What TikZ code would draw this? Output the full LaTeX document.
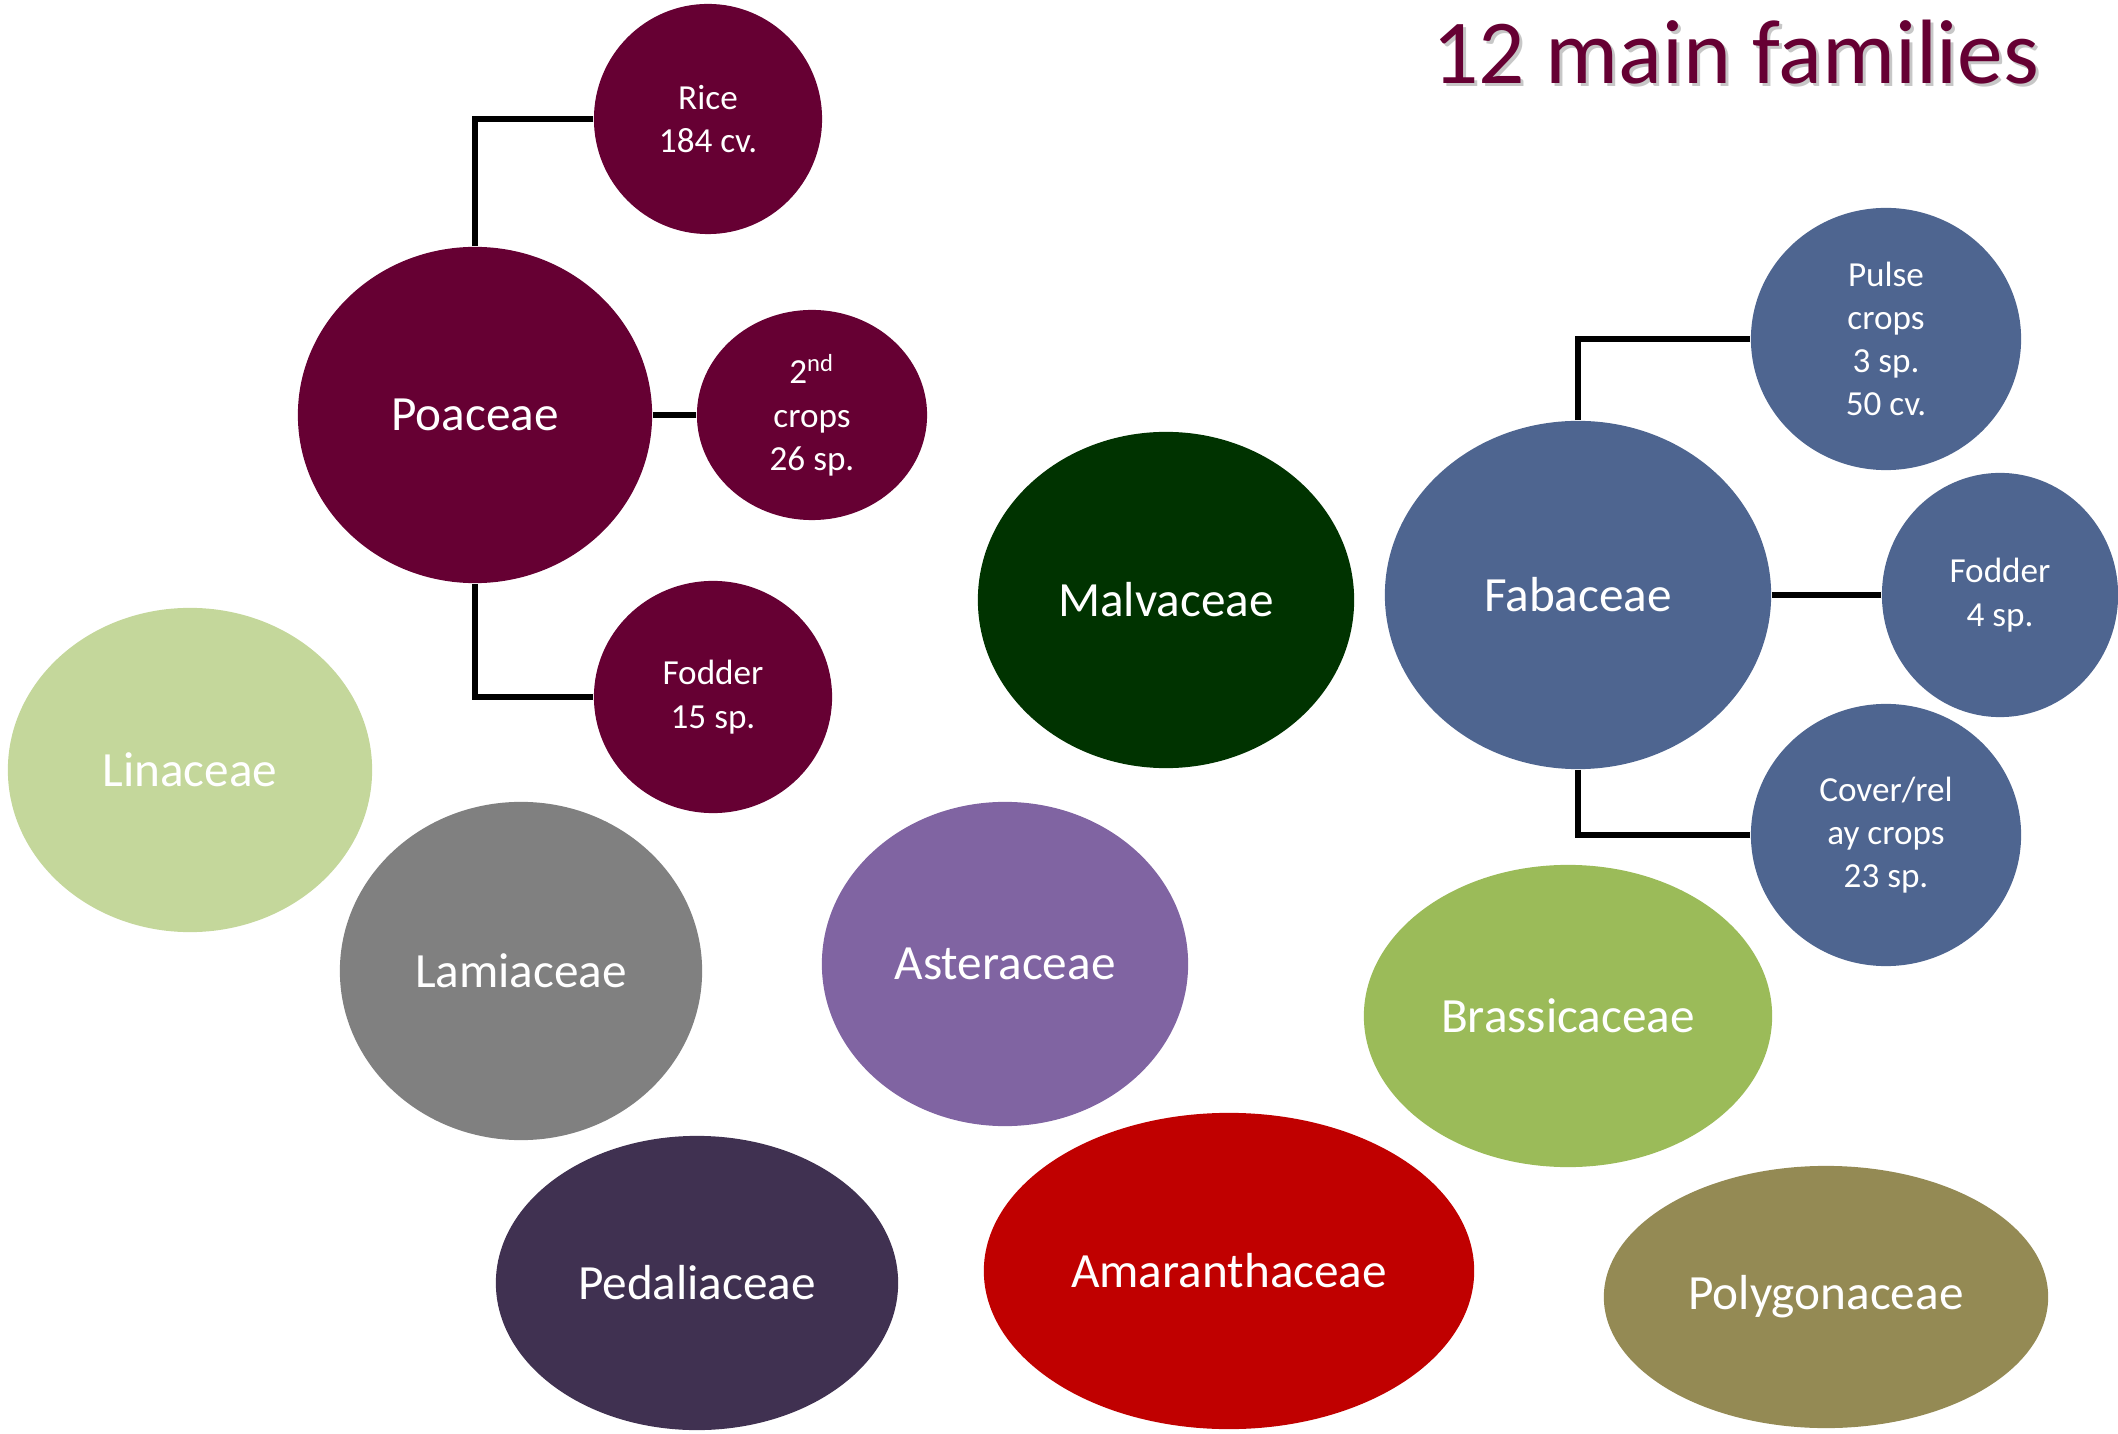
\documentclass[tikz,border=0pt]{standalone}
\usepackage{fontspec}
\setmainfont{Carlito}
\usepackage{tikz}
\usetikzlibrary{shapes.geometric, positioning}

\definecolor{poacol}{HTML}{660033}
\definecolor{fabcol}{HTML}{4E6590}
\definecolor{malcol}{HTML}{003300}
\definecolor{lincol}{HTML}{C4D79B}
\definecolor{lamcol}{HTML}{808080}
\definecolor{astcol}{HTML}{8064A2}
\definecolor{bracol}{HTML}{9BBB59}
\definecolor{pedcol}{HTML}{403151}
\definecolor{amacol}{HTML}{C00000}
\definecolor{polcol}{HTML}{948A54}

\begin{document}
\begin{tikzpicture}[
	x=0.01cm, y=-0.01cm,
	family/.style={ellipse, inner sep=0pt, text=white, align=center,
		font=\fontsize{14}{17}\selectfont},
	crop/.style={ellipse, inner sep=0pt, text=white, align=center,
		font=\fontsize{10}{12.3}\selectfont},
	size/.style 2 args={minimum width=#1*0.02cm, minimum height=#2*0.02cm},
	link/.style={draw, line width=1.6pt, black},
	titre/.style={anchor=base east, inner sep=0pt, font=\fontsize{26}{30}\selectfont}
	]
	\useasboundingbox (0,0) rectangle (2118,1434);

	% Titre (avec ombre)
	\node[titre, text=black!22] at (2043,87) {12 main families};
	\node[titre, text=poacol] (T) at (2040,84) {12 main families};

	% Les familles
	\node[family, size={177}{168}, fill=poacol] (Poa) at (475,415) {Poaceae};
	\node[family, size={188}{168}, fill=malcol] (Mal) at (1166,600) {Malvaceae};
	\node[family, size={193}{174}, fill=fabcol] (Fab) at (1578,595) {Fabaceae};
	\node[family, size={182}{162}, fill=lincol] (Lin) at (190,770) {Linaceae};
	\node[family, size={181}{169}, fill=lamcol] (Lam) at (521,971) {Lamiaceae};
	\node[family, size={183}{162}, fill=astcol] (Ast) at (1005,964) {Asteraceae};
	\node[family, size={204}{151}, fill=bracol] (Bra) at (1568,1016) {Brassicaceae};
	\node[family, size={201}{147}, fill=pedcol] (Ped) at (697,1283) {Pedaliaceae};
	\node[family, size={245}{158}, fill=amacol] (Ama) at (1229,1271) {Amaranthaceae};
	\node[family, size={222}{131}, fill=polcol] (Pol) at (1826,1297) {Polygonaceae};

	% Les sous-groupes
	\node[crop, size={114}{115}, fill=poacol] (Ric) at (708,119) {Rice\\184 cv.};
	\node[crop, size={115}{105}, fill=poacol] (Sec) at (812,415) {2\textsuperscript{nd}\\crops\\26 sp.};
	\node[crop, size={119}{116}, fill=poacol] (PFo) at (713,697) {Fodder\\15 sp.};
	\node[crop, size={135}{131}, fill=fabcol] (Pul) at (1886,339) {Pulse\\crops\\3 sp.\\50 cv.};
	\node[crop, size={118}{122}, fill=fabcol] (FFo) at (2000,595) {Fodder\\4 sp.};
	\node[crop, size={135}{131}, fill=fabcol] (Cov) at (1886,835) {Cover/rel\\ay crops\\23 sp.};

	% Les liens
	\draw[link] (Poa.north) |- (Ric.west);
	\draw[link] (Poa.east) -- (Sec.west);
	\draw[link] (Poa.south) |- (PFo.west);
	\draw[link] (Fab.north) |- (Pul.west);
	\draw[link] (Fab.east) -- (FFo.west);
	\draw[link] (Fab.south) |- (Cov.west);
\end{tikzpicture}
\end{document}
